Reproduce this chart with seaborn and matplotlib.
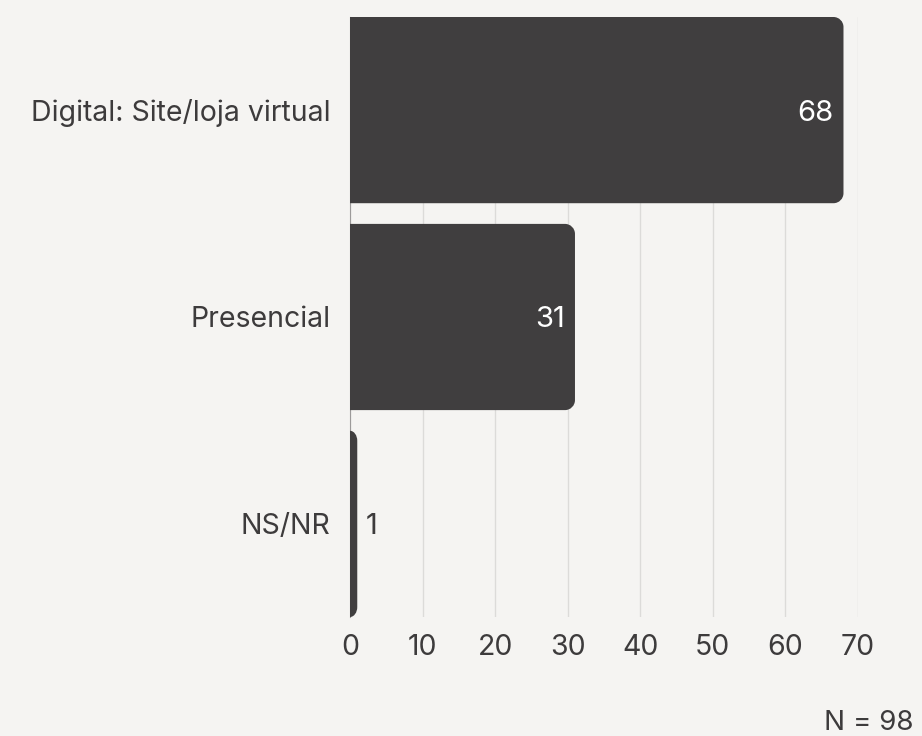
import matplotlib
matplotlib.use("Agg")
import matplotlib.pyplot as plt
import seaborn as sns
import pandas as pd
from matplotlib.path import Path
from matplotlib.patches import PathPatch

# Data
categories = ["Digital: Site/loja virtual", "Presencial", "NS/NR"]
values = [68, 31, 1]
x_ticks = [0, 10, 20, 30, 40, 50, 60, 70]
sample_note = "N = 98"

# Style
BG = "#f5f4f2"
BAR = "#403e3f"
TEXT = "#3d3b3c"
GRID = "#dcdbd9"
CORNER_PX = 10

sns.set_theme(style="white")
plt.rcParams["font.family"] = ["Inter", "DejaVu Sans"]

df = pd.DataFrame({"canal": categories, "n": values})

fig = plt.figure(figsize=(9.22, 7.36), dpi=100, facecolor=BG)
ax = fig.add_axes([350 / 922, 1 - 617 / 736, 508 / 922, 600 / 736])
ax.set_facecolor(BG)

sns.barplot(data=df, y="canal", x="n", orient="h", color=BAR, width=0.9,
            saturation=1, ax=ax, zorder=3)

ax.set_xlim(x_ticks[0], x_ticks[-1])
ax.set_ylim(len(categories) - 0.55, -0.45)
ax.set_xticks(x_ticks)
ax.set_xlabel("")
ax.set_ylabel("")
ax.set_axisbelow(True)
ax.xaxis.grid(True, color=GRID, lw=1)
ax.yaxis.grid(False)

for s in ["top", "right", "bottom"]:
    ax.spines[s].set_visible(False)
ax.spines["left"].set_color("#9c9a9a")
ax.spines["left"].set_linewidth(0.8)

ax.tick_params(axis="x", length=0, pad=12.5, labelsize=20.5, labelcolor=TEXT)
ax.tick_params(axis="y", length=0, pad=14, labelsize=20.5, labelcolor=TEXT)

# Rounded right-hand corners on every bar
p0 = ax.transData.transform((0, 0))
p1 = ax.transData.transform((1, 1))
sx = abs(p1[0] - p0[0])
sy = abs(p1[1] - p0[1])
K = 0.5523

for bar in list(ax.patches):
    x0 = bar.get_x()
    w = bar.get_width()
    yb = bar.get_y()
    h = bar.get_height()
    x1 = x0 + w
    yt = yb + h
    rx = min(CORNER_PX / sx, w)
    ry = min(CORNER_PX / sy, h / 2)
    verts = [
        (x0, yb),
        (x1 - rx, yb),
        (x1 - rx + K * rx, yb), (x1, yb + ry - K * ry), (x1, yb + ry),
        (x1, yt - ry),
        (x1, yt - ry + K * ry), (x1 - rx + K * rx, yt), (x1 - rx, yt),
        (x0, yt),
        (x0, yb),
    ]
    codes = [Path.MOVETO, Path.LINETO,
             Path.CURVE4, Path.CURVE4, Path.CURVE4,
             Path.LINETO,
             Path.CURVE4, Path.CURVE4, Path.CURVE4,
             Path.LINETO, Path.CLOSEPOLY]
    bar.remove()
    ax.add_patch(PathPatch(Path(verts, codes), facecolor=BAR, edgecolor="none",
                           zorder=3))

# Value labels
for i, v in enumerate(values):
    if v >= 10:
        ax.annotate(str(v), xy=(v, i), xytext=(-10, 0), textcoords="offset pixels",
                    ha="right", va="center_baseline", color="white",
                    fontsize=21, zorder=4)
    else:
        ax.annotate(str(v), xy=(v, i), xytext=(8, 0), textcoords="offset pixels",
                    ha="left", va="center_baseline", color=TEXT,
                    fontsize=21, zorder=4)

fig.text(913 / 922, 6 / 736, sample_note, ha="right", va="baseline",
         fontsize=20, color=TEXT)

fig.savefig("out.png", dpi=100, facecolor=BG)
